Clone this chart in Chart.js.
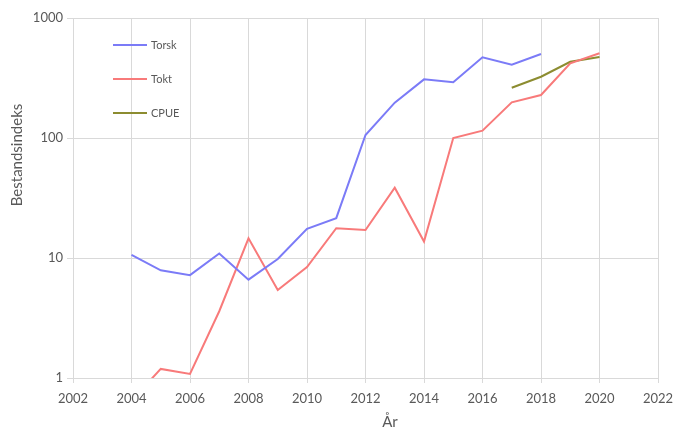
<!DOCTYPE html>
<html>
<head>
<meta charset="utf-8">
<script src="https://cdn.jsdelivr.net/npm/chart.js@4/dist/chart.umd.min.js"></script>
<style>
  html, body { margin: 0; padding: 0; background: #fff; }
  #wrap { width: 675px; height: 430px; position: relative; }
</style>
</head>
<body>
<div id="wrap"><canvas id="stockChart"></canvas></div>
<script>
// stock index per year, log scale
const torskYears = [2004, 2005, 2006, 2007, 2008, 2009, 2010, 2011, 2012, 2013, 2014, 2015, 2016, 2017, 2018];
const torskValues = [10.6, 7.9, 7.2, 10.9, 6.6, 9.8, 17.5, 21.5, 106, 197, 308, 291, 470, 408, 501];

const toktYears = [2004, 2005, 2006, 2007, 2008, 2009, 2010, 2011, 2012, 2013, 2014, 2015, 2016, 2017, 2018, 2019, 2020];
const toktValues = [0.65, 1.19, 1.08, 3.6, 14.6, 5.4, 8.4, 17.7, 17.1, 38.5, 13.7, 100, 115, 198, 228, 419, 508];

const cpueYears = [2017, 2018, 2019, 2020];
const cpueValues = [262, 324, 432, 473];

const yTicks = [1, 10, 100, 1000];

const seriesNames = ['Torsk', 'Tokt', 'CPUE'];
const seriesColors = ['#7b7bf7', '#f87a7a', '#8c8c30'];

const toPoints = (xs, ys) => xs.map((x, i) => ({ x: x, y: ys[i] }));

const FONT = 'Lato, "Open Sans", sans-serif';
const TEXT = '#595959';

// legend inside the plot area plus both axis titles
const annotations = {
  id: 'annotations',
  afterDraw(chart) {
    const ctx = chart.ctx;
    ctx.save();
    seriesNames.forEach((name, i) => {
      const y = 45 + i * 34;
      ctx.strokeStyle = seriesColors[i];
      ctx.lineWidth = 2;
      ctx.beginPath();
      ctx.moveTo(113, y);
      ctx.lineTo(147, y);
      ctx.stroke();
      ctx.fillStyle = TEXT;
      ctx.font = '11px ' + FONT;
      ctx.textAlign = 'left';
      ctx.textBaseline = 'middle';
      ctx.fillText(name, 151, y);
    });

    ctx.fillStyle = TEXT;
    ctx.font = '15px ' + FONT;
    ctx.textAlign = 'center';
    ctx.textBaseline = 'middle';
    ctx.fillText('År', 390, 422);

    ctx.translate(17, 155);
    ctx.rotate(-Math.PI / 2);
    ctx.fillText('Bestandsindeks', 0, 0);
    ctx.restore();
  }
};

new Chart(document.getElementById('stockChart'), {
  type: 'line',
  data: {
    datasets: [
      { label: seriesNames[0], data: toPoints(torskYears, torskValues), borderColor: seriesColors[0] },
      { label: seriesNames[1], data: toPoints(toktYears, toktValues), borderColor: seriesColors[1] },
      { label: seriesNames[2], data: toPoints(cpueYears, cpueValues), borderColor: seriesColors[2] }
    ]
  },
  options: {
    responsive: true,
    maintainAspectRatio: false,
    animation: false,
    layout: { padding: { top: 18, right: 17, left: 0, bottom: 0 } },
    elements: {
      line: { borderWidth: 2, tension: 0, fill: false },
      point: { radius: 0 }
    },
    plugins: {
      legend: { display: false },
      tooltip: { enabled: false }
    },
    scales: {
      x: {
        type: 'linear',
        min: 2002,
        max: 2022,
        ticks: {
          stepSize: 2,
          color: TEXT,
          font: { family: FONT, size: 13 },
          padding: 8,
          maxRotation: 0,
          callback: v => String(v)
        },
        grid: { color: '#d9d9d9', tickLength: 5, tickColor: '#d9d9d9' },
        border: { color: '#d9d9d9' },
        afterFit(scale) {
          scale.height = 52;
          scale.paddingLeft = 0;
          scale.paddingRight = 0;
        }
      },
      y: {
        type: 'logarithmic',
        min: 1,
        max: 1000,
        afterBuildTicks(scale) {
          scale.ticks = yTicks.map(v => ({ value: v }));
        },
        ticks: {
          color: TEXT,
          font: { family: FONT, size: 13 },
          padding: 4,
          callback: v => String(v)
        },
        grid: { color: '#d9d9d9', tickLength: 6, tickColor: '#d9d9d9' },
        border: { color: '#d9d9d9' },
        afterFit(scale) {
          scale.width = 73;
          scale.paddingTop = 0;
          scale.paddingBottom = 0;
        }
      }
    }
  },
  plugins: [annotations]
});
</script>
</body>
</html>
